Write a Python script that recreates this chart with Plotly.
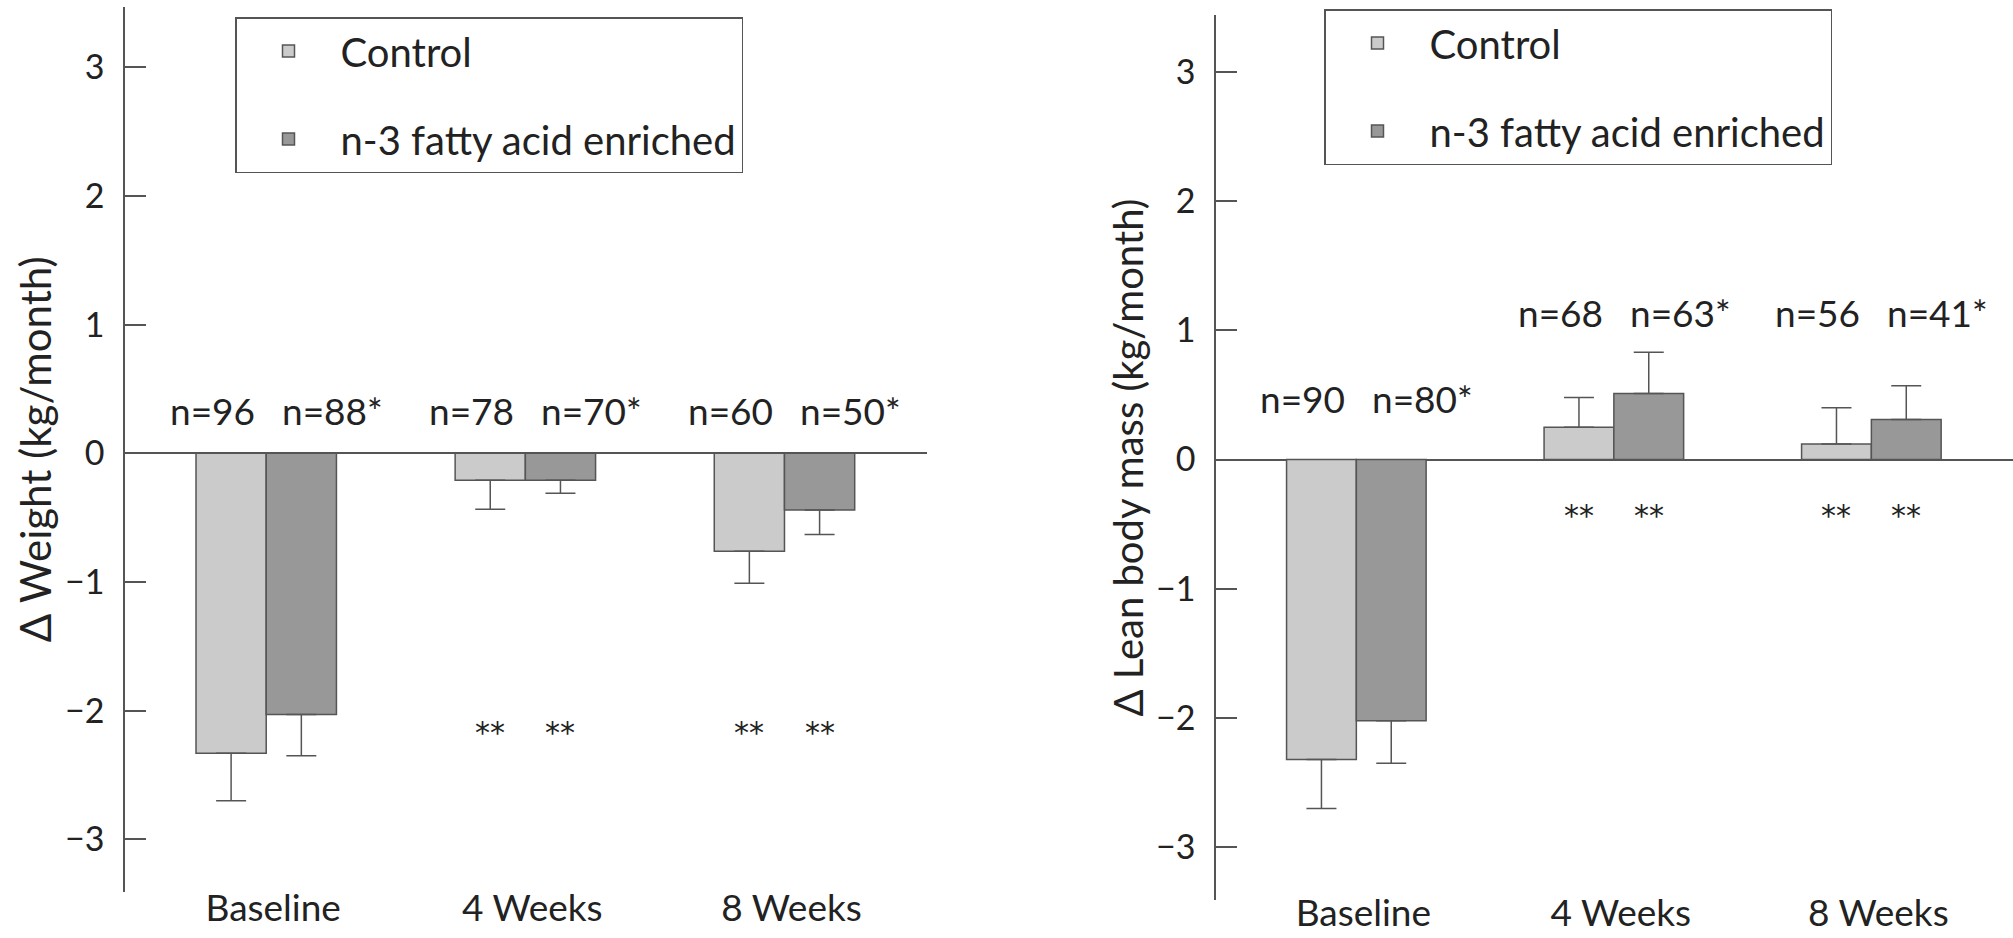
import plotly.graph_objects as go

# ---------------- data ----------------
categories = ["Baseline", "4 Weeks", "8 Weeks"]
series_names = ["Control", "n-3 fatty acid enriched"]

weight_control = [-2.33, -0.21, -0.76]
weight_control_err = [0.37, 0.225, 0.25]
weight_enriched = [-2.03, -0.21, -0.44]
weight_enriched_err = [0.32, 0.10, 0.19]
weight_n_control = ["n=96", "n=78", "n=60"]
weight_n_enriched = ["n=88*", "n=70*", "n=50*"]
weight_sig = ["", "**", "**"]

lean_control = [-2.32, 0.25, 0.12]
lean_control_err = [0.38, 0.23, 0.28]
lean_enriched = [-2.02, 0.51, 0.31]
lean_enriched_err = [0.33, 0.32, 0.26]
lean_n_control = ["n=90", "n=68", "n=56"]
lean_n_enriched = ["n=80*", "n=63*", "n=41*"]
lean_sig = ["", "**", "**"]

y_ticks = [-3, -2, -1, 0, 1, 2, 3]

# ---------------- style ----------------
FONT = "Lato"
TXT = "#222222"
LINE = "#555555"
C_CTRL = "#cbcbcb"
C_ENR = "#989898"
BARGAP = 0.458
HALF = (1 - BARGAP) / 4  # offset of each bar centre from group centre

weight_n_y = [0.33, 0.33, 0.33]
weight_sig_y = -2.17
lean_n_y = [0.47, 1.14, 1.14]
lean_sig_y = -0.43


def err_dict(vals, errs):
    return dict(
        type="data", symmetric=False,
        array=[e if v > 0 else 0 for v, e in zip(vals, errs)],
        arrayminus=[e if v < 0 else 0 for v, e in zip(vals, errs)],
        color=LINE, thickness=1.5, width=15,
    )


fig = go.Figure()

panels = [
    ("x", "y", "legend", weight_control, weight_control_err, weight_enriched, weight_enriched_err, "w"),
    ("x2", "y2", "legend2", lean_control, lean_control_err, lean_enriched, lean_enriched_err, "l"),
]
for xa, ya, lg, c, ce, e, ee, tag in panels:
    fig.add_trace(go.Bar(
        x=categories, y=c, name=series_names[0], xaxis=xa, yaxis=ya, legend=lg,
        legendgroup=tag + "c", offsetgroup="c",
        marker=dict(color=C_CTRL, line=dict(color=LINE, width=1.5)),
        error_y=err_dict(c, ce), hoverinfo="skip",
    ))
    fig.add_trace(go.Bar(
        x=categories, y=e, name=series_names[1], xaxis=xa, yaxis=ya, legend=lg,
        legendgroup=tag + "e", offsetgroup="e",
        marker=dict(color=C_ENR, line=dict(color=LINE, width=1.5)),
        error_y=err_dict(e, ee), hoverinfo="skip",
    ))

annotations = []
ann_font = dict(family=FONT, size=37, color=TXT)
sig_font = dict(family="DejaVu Sans", size=30, color=TXT)
for xr, yr, nc, ne, ny, sig, sy in [
    ("x", "y", weight_n_control, weight_n_enriched, weight_n_y, weight_sig, weight_sig_y),
    ("x2", "y2", lean_n_control, lean_n_enriched, lean_n_y, lean_sig, lean_sig_y),
]:
    for i in range(len(categories)):
        annotations.append(dict(x=i, y=ny[i], xref=xr, yref=yr, text=nc[i], showarrow=False,
                                xanchor="right", yanchor="middle", xshift=-9, font=ann_font))
        annotations.append(dict(x=i, y=ny[i], xref=xr, yref=yr, text=ne[i], showarrow=False,
                                xanchor="left", yanchor="middle", xshift=14, font=ann_font))
        if sig[i]:
            for off in (-HALF, HALF):
                annotations.append(dict(x=i + off, y=sy, xref=xr, yref=yr, text=sig[i],
                                        showarrow=False, xanchor="center", yanchor="middle",
                                        font=sig_font))

xaxis_common = dict(
    type="category", range=[-0.545, 2.55], showline=False, showgrid=False, zeroline=False,
    ticks="", tickfont=dict(family=FONT, size=37, color=TXT),
    ticklabelshift=7, fixedrange=True, automargin=False,
)
yaxis_common = dict(
    tickvals=y_ticks, showline=True, linecolor=LINE, linewidth=1.5, showgrid=False,
    zeroline=True, zerolinecolor=LINE, zerolinewidth=1.5,
    ticks="inside", ticklen=21, tickwidth=1.5, tickcolor=LINE,
    tickfont=dict(family=FONT, size=34, color=TXT), ticklabelstandoff=12,
    fixedrange=True, automargin=False,
)

legend_common = dict(
    bgcolor="white", bordercolor=LINE, borderwidth=1.5,
    font=dict(family=FONT, size=40, color=TXT),
    itemwidth=94, tracegroupgap=33, xanchor="left", yanchor="top",
    itemclick=False, itemdoubleclick=False,
)

fig.update_layout(
    width=2013, height=938,
    margin=dict(l=0, r=0, t=0, b=0, autoexpand=False),
    paper_bgcolor="white", plot_bgcolor="white",
    barmode="group", bargap=BARGAP, bargroupgap=0,
    font=dict(family=FONT, color=TXT),
    xaxis=dict(domain=[125 / 2013, 927 / 2013], anchor="y", ticklabelstandoff=-9, **xaxis_common),
    xaxis2=dict(domain=[1216 / 2013, 1.0], anchor="y2", ticklabelstandoff=-12, **xaxis_common),
    yaxis=dict(domain=[1 - 891.7 / 938, 1 - 7 / 938], range=[-3.406, 3.468], anchor="x",
               title=dict(text="\u0394 Weight (kg/month)", font=dict(family=FONT, size=42, color=TXT), standoff=0),
               **yaxis_common),
    yaxis2=dict(domain=[1 - 900 / 938, 1 - 15 / 938], range=[-3.407, 3.438], anchor="x2",
                title=dict(text="\u0394 Lean body mass (kg/month)", font=dict(family=FONT, size=40, color=TXT), standoff=0),
                **yaxis_common),
    legend=dict(x=235 / 2013, y=1 - 17 / 938, **legend_common),
    legend2=dict(x=1324 / 2013, y=1 - 9 / 938, **legend_common),
    annotations=annotations,
    showlegend=True,
)

fig.write_html("out.html", config={"displayModeBar": False},
               post_script="document.body.style.margin='0';document.body.style.overflow='hidden';")
